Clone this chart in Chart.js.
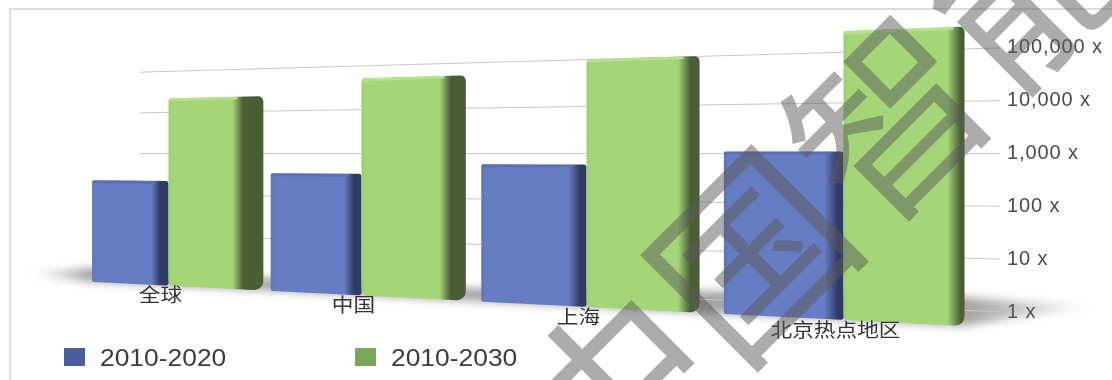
<!DOCTYPE html>
<html>
<head>
<meta charset="utf-8">
<script src="https://cdn.jsdelivr.net/npm/chart.js@4"></script>
<style>
  html, body { margin: 0; padding: 0; background: #fff; overflow: hidden; }
  #frame { position: absolute; left: 9px; top: 8px; width: 1200px; height: 500px; border: 2px solid #dcdcdc; }
  #wrap { position: absolute; left: 0; top: 0; width: 1112px; height: 380px; }
  #legend { position: absolute; left: 0; top: 0; font: 24px "Liberation Sans", sans-serif; color: #3c3c3c; }
  #legend div { position: absolute; top: 345px; white-space: nowrap; line-height: 26px; }
  #legend span { display: inline-block; transform: scaleX(1.1); transform-origin: left center; }
  #legend i { position: absolute; left: -36px; top: 3px; width: 21px; height: 18px; }
</style>
</head>
<body>
<div id="frame"></div>
<div id="wrap"><canvas id="growthChart" width="1112" height="380"></canvas></div>
<div id="legend"></div>
<script>
const categories = ['全球', '中国', '上海', '北京热点地区'];
const seriesNames = ['2010-2020', '2010-2030'];
const growth2020 = [238, 373, 607, 1090];
const growth2030 = [18000, 39000, 69000, 161000];
const yTicks = [1, 10, 100, 1000, 10000, 100000];
const watermark = '中国智能';

// perspective of the floor plane: bars stand closer to the viewer than the back wall
const barPlane = { a: 0.78, b: 0.00032 };
const wallPlane = { a: 0.7326, b: 0.000267 };

// category scale pixel -> screen x, widening towards the right
function warpX(u) {
  return 84 + 0.644 * u + 0.000256 * u * u;
}

function warpY(chart, plane, axisY, x) {
  const horizon = chart.scales.y.getPixelForValue(1000);
  return horizon + (axisY - horizon) * (plane.a + plane.b * x);
}

function quadPath(ctx, pts, radii) {
  ctx.beginPath();
  ctx.moveTo((pts[0].x + pts[1].x) / 2, (pts[0].y + pts[1].y) / 2);
  for (let i = 1; i <= 4; i++) {
    const p = pts[i % 4];
    const q = pts[(i + 1) % 4];
    ctx.arcTo(p.x, p.y, q.x, q.y, radii[i % 4]);
  }
  ctx.closePath();
}

const styles = [
  { edge: '#5f74b8', face: '#677dc3', side: '#2f3b64', top: '#5a70b6', radii: [2, 3, 3, 2] },
  { edge: '#9bcf70', face: '#a4d678', side: '#4a5e36', top: '#b4e28e', radii: [3, 5, 9, 6] },
];

function sideDepth(index, right) {
  // the green columns show less of their side as they approach the vanishing point
  return index === 0 ? 13 : Math.max(11, 0.0228 * (1402 - right));
}

function drawBar(chart, el, index) {
  const ctx = chart.ctx;
  const style = styles[index];
  const left = warpX(el.x - el.width / 2);
  let right = warpX(el.x + el.width / 2);
  if (index === 1) {
    right += 0.0237 * (756 - right);
  }
  const pts = [
    { x: left, y: warpY(chart, barPlane, el.y, left) },
    { x: right, y: warpY(chart, barPlane, el.y, right) },
    { x: right, y: warpY(chart, barPlane, el.base, right) },
    { x: left, y: warpY(chart, barPlane, el.base, left) },
  ];
  const w = right - left;
  const sideAt = 1 - sideDepth(index, right) / w;
  const grad = ctx.createLinearGradient(left, 0, right, 0);
  grad.addColorStop(0, style.edge);
  grad.addColorStop(0.04, style.face);
  grad.addColorStop(Math.max(0.05, sideAt - 0.05), style.face);
  grad.addColorStop(Math.min(0.99, sideAt + 0.06), style.side);
  grad.addColorStop(1, style.side);

  ctx.save();
  quadPath(ctx, pts, style.radii);
  ctx.fillStyle = grad;
  ctx.fill();
  ctx.clip();
  // thin lit edge along the top of the column
  ctx.beginPath();
  ctx.moveTo(left, pts[0].y);
  ctx.lineTo(left + w * sideAt, pts[1].y);
  ctx.lineTo(left + w * sideAt, pts[1].y + 3);
  ctx.lineTo(left, pts[0].y + 3);
  ctx.closePath();
  ctx.fillStyle = style.top;
  ctx.fill();
  ctx.restore();
}

// floor shadow, back wall grid, column painting, category labels, watermark
const perspectivePlugin = {
  id: 'perspective',
  beforeDraw(chart) {
    // tick labels are set a little wide
    chart.ctx.letterSpacing = '0.9px';
  },
  beforeDatasetsDraw(chart) {
    const ctx = chart.ctx;
    const y = chart.scales.y;
    const base = y.getPixelForValue(1);

    const fade = ctx.createLinearGradient(25, 0, 1095, 0);
    fade.addColorStop(0, 'rgba(110,110,110,0)');
    fade.addColorStop(0.06, 'rgba(110,110,110,0.62)');
    fade.addColorStop(0.88, 'rgba(110,110,110,0.62)');
    fade.addColorStop(1, 'rgba(110,110,110,0)');

    ctx.save();
    ctx.filter = 'blur(4px)';
    ctx.fillStyle = fade;
    ctx.beginPath();
    ctx.moveTo(25, 274);
    [90, 268, 470, 700, 964].forEach((x, i) => {
      ctx.lineTo(x, warpY(chart, barPlane, base, x) - [14, 13, 13, 22, 29][i]);
    });
    ctx.lineTo(1095, 306);
    [964, 700, 470, 268, 90].forEach((x) => {
      ctx.lineTo(x, warpY(chart, barPlane, base, x));
    });
    ctx.closePath();
    ctx.fill();
    ctx.restore();

    ctx.save();
    ctx.strokeStyle = '#c8c8c8';
    ctx.lineWidth = 1;
    yTicks.forEach((v) => {
      const py = y.getPixelForValue(v);
      ctx.beginPath();
      ctx.moveTo(140, warpY(chart, wallPlane, py, 140));
      ctx.lineTo(chart.chartArea.right, warpY(chart, wallPlane, py, chart.chartArea.right));
      ctx.stroke();
    });
    ctx.restore();
  },
  beforeDatasetDraw() {
    return false;
  },
  afterDatasetsDraw(chart) {
    const metas = [chart.getDatasetMeta(0), chart.getDatasetMeta(1)];
    categories.forEach((c, i) => {
      metas.forEach((meta, index) => drawBar(chart, meta.data[i], index));
    });

    const ctx = chart.ctx;
    const x = chart.scales.x;
    const base = chart.scales.y.getPixelForValue(1);
    ctx.save();
    ctx.font = '19px "Noto Sans CJK SC"';
    ctx.letterSpacing = '0px';
    ctx.fillStyle = '#333';
    ctx.textAlign = 'center';
    ctx.textBaseline = 'middle';
    categories.forEach((label, i) => {
      const lx = warpX(x.getPixelForValue(i)) - 8;
      ctx.save();
      ctx.translate(lx, warpY(chart, barPlane, base, lx) + 10);
      ctx.scale(1.14, 1);
      ctx.fillText(label, 0, 0);
      ctx.restore();
    });
    ctx.restore();
  },
  afterDraw(chart) {
    const ctx = chart.ctx;
    ctx.save();
    ctx.translate(821, 186);
    ctx.rotate(-Math.PI / 4);
    ctx.font = '400 190px "Noto Sans CJK SC"';
    ctx.letterSpacing = '3px';
    ctx.fillStyle = 'rgba(90,90,90,0.5)';
    ctx.textAlign = 'center';
    ctx.textBaseline = 'middle';
    ctx.fillText(watermark, 0, 0);
    ctx.restore();
  },
};

const chart = new Chart(document.getElementById('growthChart'), {
  type: 'bar',
  data: {
    labels: categories,
    datasets: [
      { label: seriesNames[0], data: growth2020, backgroundColor: '#4a5e9f', categoryPercentage: 0.9, barPercentage: 1 },
      { label: seriesNames[1], data: growth2030, backgroundColor: '#7aa75a', categoryPercentage: 0.9, barPercentage: 1 },
    ],
  },
  options: {
    responsive: false,
    animation: false,
    layout: { padding: { bottom: 68 } },
    plugins: {
      legend: { display: false },
      tooltip: { enabled: false },
    },
    scales: {
      x: { display: false },
      y: {
        type: 'logarithmic',
        position: 'right',
        min: 1,
        max: 352000,
        grid: { display: false, tickLength: 0 },
        border: { display: false },
        afterBuildTicks: (scale) => {
          scale.ticks = yTicks.map((value) => ({ value }));
        },
        afterFit: (scale) => {
          scale.width = 112;
        },
        ticks: {
          padding: 7,
          color: '#4a4a4a',
          autoSkip: false,
          maxRotation: 0,
          font: { family: '"Liberation Sans"', size: 20 },
          callback: (value) => `${Number(value).toLocaleString('en-US')} x`,
        },
      },
    },
  },
  plugins: [perspectivePlugin],
});

// legend is laid out by hand so the two entries sit far apart
const legendEl = document.getElementById('legend');
[100, 391].forEach((left, i) => {
  const item = document.createElement('div');
  item.style.left = left + 'px';
  const text = document.createElement('span');
  text.textContent = chart.data.datasets[i].label;
  item.appendChild(text);
  const box = document.createElement('i');
  box.style.background = chart.data.datasets[i].backgroundColor;
  item.appendChild(box);
  legendEl.appendChild(item);
});
</script>
</body>
</html>
